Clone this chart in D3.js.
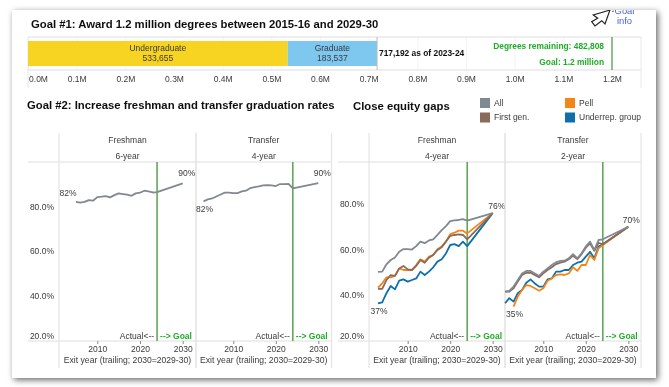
<!DOCTYPE html>
<html>
<head>
<meta charset="utf-8">
<script src="https://cdn.jsdelivr.net/npm/d3@7"></script>
<style>
  html, body { margin: 0; padding: 0; background: #fff; }
  svg { display: block; }
  text { font-family: "Liberation Sans", Arial, sans-serif; }
</style>
</head>
<body>
<svg id="chart" width="669" height="387"></svg>
<script>
// Goal #1 bar
const barCategories = ["Undergraduate", "Graduate"];
const barValues = [533655, 183537];
const barTicks = [0, 0.1, 0.2, 0.3, 0.4, 0.5, 0.6, 0.7, 0.8, 0.9, 1.0, 1.1, 1.2];
const goalTotal = 1.2;

// Graduation rates
const years2001 = [2001, 2002, 2003, 2004, 2005, 2006, 2007, 2008, 2009, 2010, 2011, 2012, 2013, 2014, 2015, 2016, 2017, 2018, 2019, 2020, 2021, 2022, 2023, 2024, 2030];
const years2003 = [2003, 2004, 2005, 2006, 2007, 2008, 2009, 2010, 2011, 2012, 2013, 2014, 2015, 2016, 2017, 2018, 2019, 2020, 2021, 2022, 2023, 2024, 2030];
const years2005 = [2005, 2006, 2007, 2008, 2009, 2010, 2011, 2012, 2013, 2014, 2015, 2016, 2017, 2018, 2019, 2020, 2021, 2022, 2023, 2024, 2030];

const freshman6All = [82.1, 81.7, 82.1, 82.9, 82.6, 84.2, 84.4, 84.7, 84.1, 85.1, 85.9, 85.6, 85.3, 84.8, 85.9, 86.2, 87.1, 86.8, 86.3, 86.5, 90.4];
const transfer4All = [82.3, 83.2, 83.6, 84.5, 85.4, 86.2, 86.2, 86.0, 86.0, 86.8, 87.1, 88.3, 88.7, 89.0, 89.5, 89.6, 89.5, 89.2, 90.1, 90.1, 90.2, 88.1, 90.5];

const freshman4All = [50.2, 50.3, 53.5, 55.4, 56.5, 59, 60.2, 60.2, 60, 61.5, 63.5, 62.8, 64, 64.5, 66.5, 68.5, 70.3, 72.5, 72.8, 73, 73.4, 72.7, 76];
const freshman4Pell = [43.2, 45.1, 47.8, 47.8, 48.4, 51.7, 51, 51, 51, 53.2, 55.7, 54.7, 56.9, 57.6, 60.1, 61.3, 63.5, 66.8, 67.4, 68.3, 68.3, 67.1, 76];
const freshman4First = [42.7, 42.7, 46.6, 48.8, 48.4, 51.7, 52.8, 51.3, 51, 52.8, 55.4, 54.2, 56.4, 57.6, 59.8, 61, 63.5, 66, 66.4, 66.7, 66.4, 64.5, 76];
const freshman4Urg = [36.3, 36.8, 40.8, 44, 42.5, 46.3, 46.9, 45.9, 46.6, 47.3, 50.3, 48.8, 50.3, 52.2, 54.7, 55.7, 58.3, 62, 62.4, 61.5, 63.5, 61.5, 76];

const transfer2All = [41.5, 41.8, 43.7, 46.6, 49.5, 50.6, 50.6, 49.5, 48.4, 50.3, 51.7, 53.2, 54.4, 55, 55.1, 56.1, 58, 56.1, 58.3, 61.3, 63.5, 59.8, 64.2, 64.5, 70];
const transfer2First = [41.5, 41.5, 43, 45.9, 48.8, 49.8, 49.8, 48.8, 47.8, 49.5, 51, 52.2, 53.6, 54.2, 54.7, 55.7, 57.3, 55.8, 58, 60.8, 62.7, 59.4, 63, 62.3, 70];
const transfer2Urg = [36.4, 38.6, 37.1, 40.8, 42.2, 45.4, 46.9, 45.1, 43.7, 43.7, 46.9, 47.3, 50.3, 50.3, 51, 51, 53.2, 54.2, 54.7, 56.9, 59, 56.1, 61.3, 62.3, 70];
const transfer2Pell = [34.9, 39.3, 42.2, 44.4, 44, 43, 41.9, 43, 46.3, 47.3, 48.8, 49.1, 48.8, 49.5, 52.2, 50.6, 53.2, 53.2, 57.6, 55.4, 60.5, 62, 70];

const legendLabels = ["All", "First gen.", "Pell", "Underrep. group"];
const yTicks = [20, 40, 60, 80];
const xTicks = [2010, 2020, 2030];

const colour = { "All": "#808892", "First gen.": "#8a6a58", "Pell": "#f58518", "Underrep. group": "#1170aa" };
const textCol = "#3a3a3a";
const gridCol = "#dedede";
const green = "#63a75c";
const goalGreen = "#1fae2a";
const fs = 8.5;
const titleSize = 11.3;

const svg = d3.select("#chart");

// Card with its shadow
const defs = svg.append("defs");
const shadow = defs.append("filter").attr("id", "shadow")
  .attr("x", "-5%").attr("y", "-5%").attr("width", "110%").attr("height", "110%");
shadow.append("feDropShadow").attr("dx", 2).attr("dy", 2).attr("stdDeviation", 3)
  .attr("flood-color", "#000").attr("flood-opacity", 0.6);
defs.append("clipPath").attr("id", "cardClip").append("rect")
  .attr("x", 12).attr("y", 10).attr("width", 644).attr("height", 368);
// the reference is a soft screenshot, so take the edge off everything a little
defs.append("filter").attr("id", "soft")
  .attr("filterUnits", "userSpaceOnUse").attr("x", 0).attr("y", 0).attr("width", 669).attr("height", 387)
  .append("feGaussianBlur").attr("stdDeviation", 0.3);

svg.append("rect").attr("x", 12).attr("y", 10).attr("width", 644).attr("height", 368)
  .attr("fill", "#fff").attr("filter", "url(#shadow)");

const root = svg.append("g").attr("clip-path", "url(#cardClip)")
  .append("g").attr("filter", "url(#soft)");

function label(g, x, y, str, opts) {
  const o = opts || {};
  return g.append("text").attr("x", x).attr("y", y)
    .attr("dy", "0.35em")
    .attr("text-anchor", o.anchor || "middle")
    .attr("font-size", o.size || fs)
    .attr("font-weight", o.weight || "normal")
    .attr("fill", o.fill || textCol)
    .text(str);
}

// Titles
label(root, 31, 24, "Goal #1: Award 1.2 million degrees between 2015-16 and 2029-30", { anchor: "start", size: titleSize, weight: "bold", fill: "#111" });
label(root, 27, 105, "Goal #2: Increase freshman and transfer graduation rates", { anchor: "start", size: titleSize, weight: "bold", fill: "#111" });
label(root, 353, 106, "Close equity gaps", { anchor: "start", size: titleSize, weight: "bold", fill: "#111" });

// Goal info link and cursor icon
label(root, 624.5, 11, "Goal", { fill: "#4a63d8", size: 9.4 });
label(root, 624.5, 21, "info", { fill: "#4a63d8", size: 9.4 });
root.append("path")
  .attr("d", "M610,10 L593.3,15 L597.7,18.3 L591.7,21.7 L595,26 L601.7,20.7 L605,24 Z")
  .attr("fill", "#fff").attr("stroke", "#222").attr("stroke-width", 1.2);
root.append("path")
  .attr("d", "M612,11.5 L614,11 M611.5,9 L613,7.5")
  .attr("stroke", "#444").attr("stroke-width", 0.8);

// ---- Goal #1 bar ----
const barX = d3.scaleLinear().domain([0, 1.2]).range([28, 612]);
const barTop = 37, barBottom = 70, frameRight = 641;

// Faint vertical grid
const barGrid = root.append("g")
  .attr("transform", "translate(0," + barBottom + ")")
  .call(d3.axisBottom(barX).tickValues(barTicks).tickSize(-(barBottom - barTop)).tickFormat(""));
barGrid.select(".domain").remove();
barGrid.selectAll("line").attr("stroke", "#f3f3f3");

// Frame
root.append("line").attr("x1", 28).attr("x2", frameRight).attr("y1", barTop).attr("y2", barTop).attr("stroke", gridCol);
root.append("line").attr("x1", 28).attr("x2", frameRight).attr("y1", barBottom).attr("y2", barBottom).attr("stroke", gridCol);
root.append("line").attr("x1", 28).attr("x2", 28).attr("y1", barTop).attr("y2", 88).attr("stroke", "#e8e8e8");
root.append("line").attr("x1", frameRight).attr("x2", frameRight).attr("y1", barTop).attr("y2", 88).attr("stroke", "#e8e8e8");

// Stacked bar segments
const barFill = ["#f7d420", "#7ec8ef"];
const stacked = [];
barValues.reduce(function (sum, v, i) {
  stacked.push({ name: barCategories[i], value: v, from: sum / 1e6, to: (sum + v) / 1e6 });
  return sum + v;
}, 0);

const seg = root.selectAll(".seg").data(stacked).enter().append("g").attr("class", "seg");
seg.append("rect")
  .attr("x", function (d) { return barX(d.from); })
  .attr("width", function (d) { return barX(d.to) - barX(d.from); })
  .attr("y", 41).attr("height", 25)
  .attr("fill", function (d, i) { return barFill[i]; });
seg.each(function (d) {
  const cx = (barX(d.from) + barX(d.to)) / 2;
  label(d3.select(this), cx, 48, d.name);
  label(d3.select(this), cx, 58, d3.format(",")(d.value));
});

const barTotal = d3.sum(barValues);
root.append("line")
  .attr("x1", barX(barTotal / 1e6)).attr("x2", barX(barTotal / 1e6))
  .attr("y1", barTop).attr("y2", barBottom).attr("stroke", "#bbb");
root.append("line")
  .attr("x1", barX(goalTotal)).attr("x2", barX(goalTotal))
  .attr("y1", barTop).attr("y2", barBottom).attr("stroke", green).attr("stroke-width", 1.4);

label(root, 379, 53.5, d3.format(",")(barTotal) + " as of 2023-24", { anchor: "start", weight: "bold", fill: "#111", size: 8.4 });
label(root, 604, 46, "Degrees remaining: " + d3.format(",")(goalTotal * 1e6 - barTotal), { anchor: "end", weight: "bold", fill: goalGreen, size: 8.4 });
label(root, 604, 62, "Goal: 1.2 million", { anchor: "end", weight: "bold", fill: goalGreen, size: 8.4 });

// Tick labels
const barAxis = root.append("g")
  .attr("transform", "translate(0," + barBottom + ")")
  .call(d3.axisBottom(barX).tickValues(barTicks).tickSize(0).tickPadding(6)
    .tickFormat(function (d) { return d.toFixed(1) + "M"; }));
barAxis.select(".domain").remove();
barAxis.selectAll("text").attr("font-size", fs).attr("font-family", null).attr("fill", textCol);
barAxis.selectAll("text").filter(function (d) { return d === 0; }).attr("dx", 10);

// ---- Legend ----
const legendSpots = [[480, 98], [480, 112.5], [565, 98], [565, 112.5]];
const legend = root.selectAll(".legend").data(legendLabels).enter().append("g").attr("class", "legend")
  .attr("transform", function (d, i) { return "translate(" + legendSpots[i] + ")"; });
legend.append("rect").attr("width", 10).attr("height", 10)
  .attr("fill", function (d) { return colour[d]; });
legend.append("text").attr("x", 14).attr("y", 5).attr("dy", "0.35em")
  .attr("font-size", fs).attr("fill", textCol)
  .text(function (d) { return d; });

// ---- Small multiples ----
const headerTop = 133, headerLine = 162, axisLine = 341, panelBottom = 368;

function drawPanels(cfg) {
  const y = d3.scaleLinear().domain(cfg.yDomain).range([cfg.y20, headerLine]);

  // Horizontal rules across the group
  [headerLine, axisLine].forEach(function (v) {
    root.append("line").attr("x1", cfg.ruleLeft).attr("x2", cfg.panels[cfg.panels.length - 1].right)
      .attr("y1", v).attr("y2", v).attr("stroke", gridCol);
  });

  // Y axis
  const yAxis = root.append("g")
    .attr("transform", "translate(" + cfg.panels[0].left + ",0)")
    .call(d3.axisLeft(y).tickValues(yTicks).tickSize(0).tickPadding(5)
      .tickFormat(function (d) { return d.toFixed(1) + "%"; }));
  yAxis.select(".domain").remove();
  yAxis.selectAll("text").attr("font-size", fs).attr("font-family", null).attr("fill", textCol);
  yAxis.selectAll("text").filter(function (d) { return d === 20; }).attr("dy", "-0.2em");

  cfg.panels.forEach(function (p) {
    const g = root.append("g");
    const x = d3.scaleLinear().domain([2010, 2030]).range([p.x2010, p.x2030]);
    const mid = (p.left + p.right) / 2;

    [p.left, p.right].forEach(function (v) {
      g.append("line").attr("x1", v).attr("x2", v).attr("y1", headerTop).attr("y2", panelBottom)
        .attr("stroke", "#e4e4e4").attr("stroke-width", 1.2);
    });

    label(g, mid, 140, p.title);
    label(g, mid, 155.7, p.sub);

    // Goal divider
    g.append("line").attr("x1", x(2024)).attr("x2", x(2024)).attr("y1", headerLine).attr("y2", axisLine)
      .attr("stroke", green).attr("stroke-width", 1.6);

    // Series
    const line = d3.line()
      .x(function (d) { return x(d.year); })
      .y(function (d) { return y(d.value); });
    p.series.forEach(function (s) {
      const points = s.values.map(function (v, i) { return { year: s.years[i], value: v }; });
      g.append("path").datum(points)
        .attr("d", line)
        .attr("fill", "none")
        .attr("stroke", colour[s.name])
        .attr("stroke-width", 1.8)
        .attr("stroke-linejoin", "round");
    });

    // Start / end labels
    p.notes.forEach(function (n) {
      label(g, x(n.year) + n.dx, y(n.value) + n.dy, n.text);
    });

    // Actual / goal markers
    label(g, x(2024) - 3, 336, "Actual<--", { anchor: "end" });
    label(g, x(2024) + 3, 336, "--> Goal", { anchor: "start", weight: "bold", fill: goalGreen });

    // X axis
    const xAxis = g.append("g")
      .attr("transform", "translate(0," + axisLine + ")")
      .call(d3.axisBottom(x).tickValues(xTicks).tickSize(3).tickPadding(2).tickFormat(d3.format("d")));
    xAxis.select(".domain").remove();
    xAxis.selectAll("line").attr("stroke", "#888");
    xAxis.selectAll("text").attr("font-size", fs).attr("font-family", null).attr("fill", textCol);

    label(g, mid, 360, "Exit year (trailing; 2030=2029-30)", { size: 8.6 });
  });
}

drawPanels({
  yDomain: [20, 100],
  y20: 340,
  ruleLeft: 28,
  panels: [
    {
      title: "Freshman", sub: "6-year", left: 59, right: 196, x2010: 97.3, x2030: 182.7,
      series: [{ name: "All", years: years2005, values: freshman6All }],
      notes: [
        { text: "82%", year: 2005, value: 82.1, dx: -8, dy: -9 },
        { text: "90%", year: 2030, value: 90.4, dx: 4, dy: -10 }
      ]
    },
    {
      title: "Transfer", sub: "4-year", left: 196, right: 331.5, x2010: 233.3, x2030: 318.3,
      series: [{ name: "All", years: years2003, values: transfer4All }],
      notes: [
        { text: "82%", year: 2003, value: 82.3, dx: 1, dy: 7.5 },
        { text: "90%", year: 2030, value: 90.5, dx: 4, dy: -10 }
      ]
    }
  ]
});

drawPanels({
  yDomain: [20, 98.5],
  y20: 340.5,
  ruleLeft: 338,
  panels: [
    {
      title: "Freshman", sub: "4-year", left: 369, right: 505, x2010: 407.7, x2030: 492.7,
      series: [
        { name: "Underrep. group", years: years2003, values: freshman4Urg },
        { name: "Pell", years: years2003, values: freshman4Pell },
        { name: "First gen.", years: years2003, values: freshman4First },
        { name: "All", years: years2003, values: freshman4All }
      ],
      notes: [
        { text: "76%", year: 2030, value: 76, dx: 4, dy: -7 },
        { text: "37%", year: 2003, value: 36.3, dx: 1, dy: 8 }
      ]
    },
    {
      title: "Transfer", sub: "2-year", left: 505, right: 641, x2010: 543.3, x2030: 628.3,
      series: [
        { name: "Underrep. group", years: years2001, values: transfer2Urg },
        { name: "Pell", years: years2003, values: transfer2Pell },
        { name: "First gen.", years: years2001, values: transfer2First },
        { name: "All", years: years2001, values: transfer2All }
      ],
      notes: [
        { text: "70%", year: 2030, value: 70, dx: 3, dy: -7 },
        { text: "35%", year: 2003, value: 34.9, dx: 1, dy: 7 }
      ]
    }
  ]
});
</script>
</body>
</html>
